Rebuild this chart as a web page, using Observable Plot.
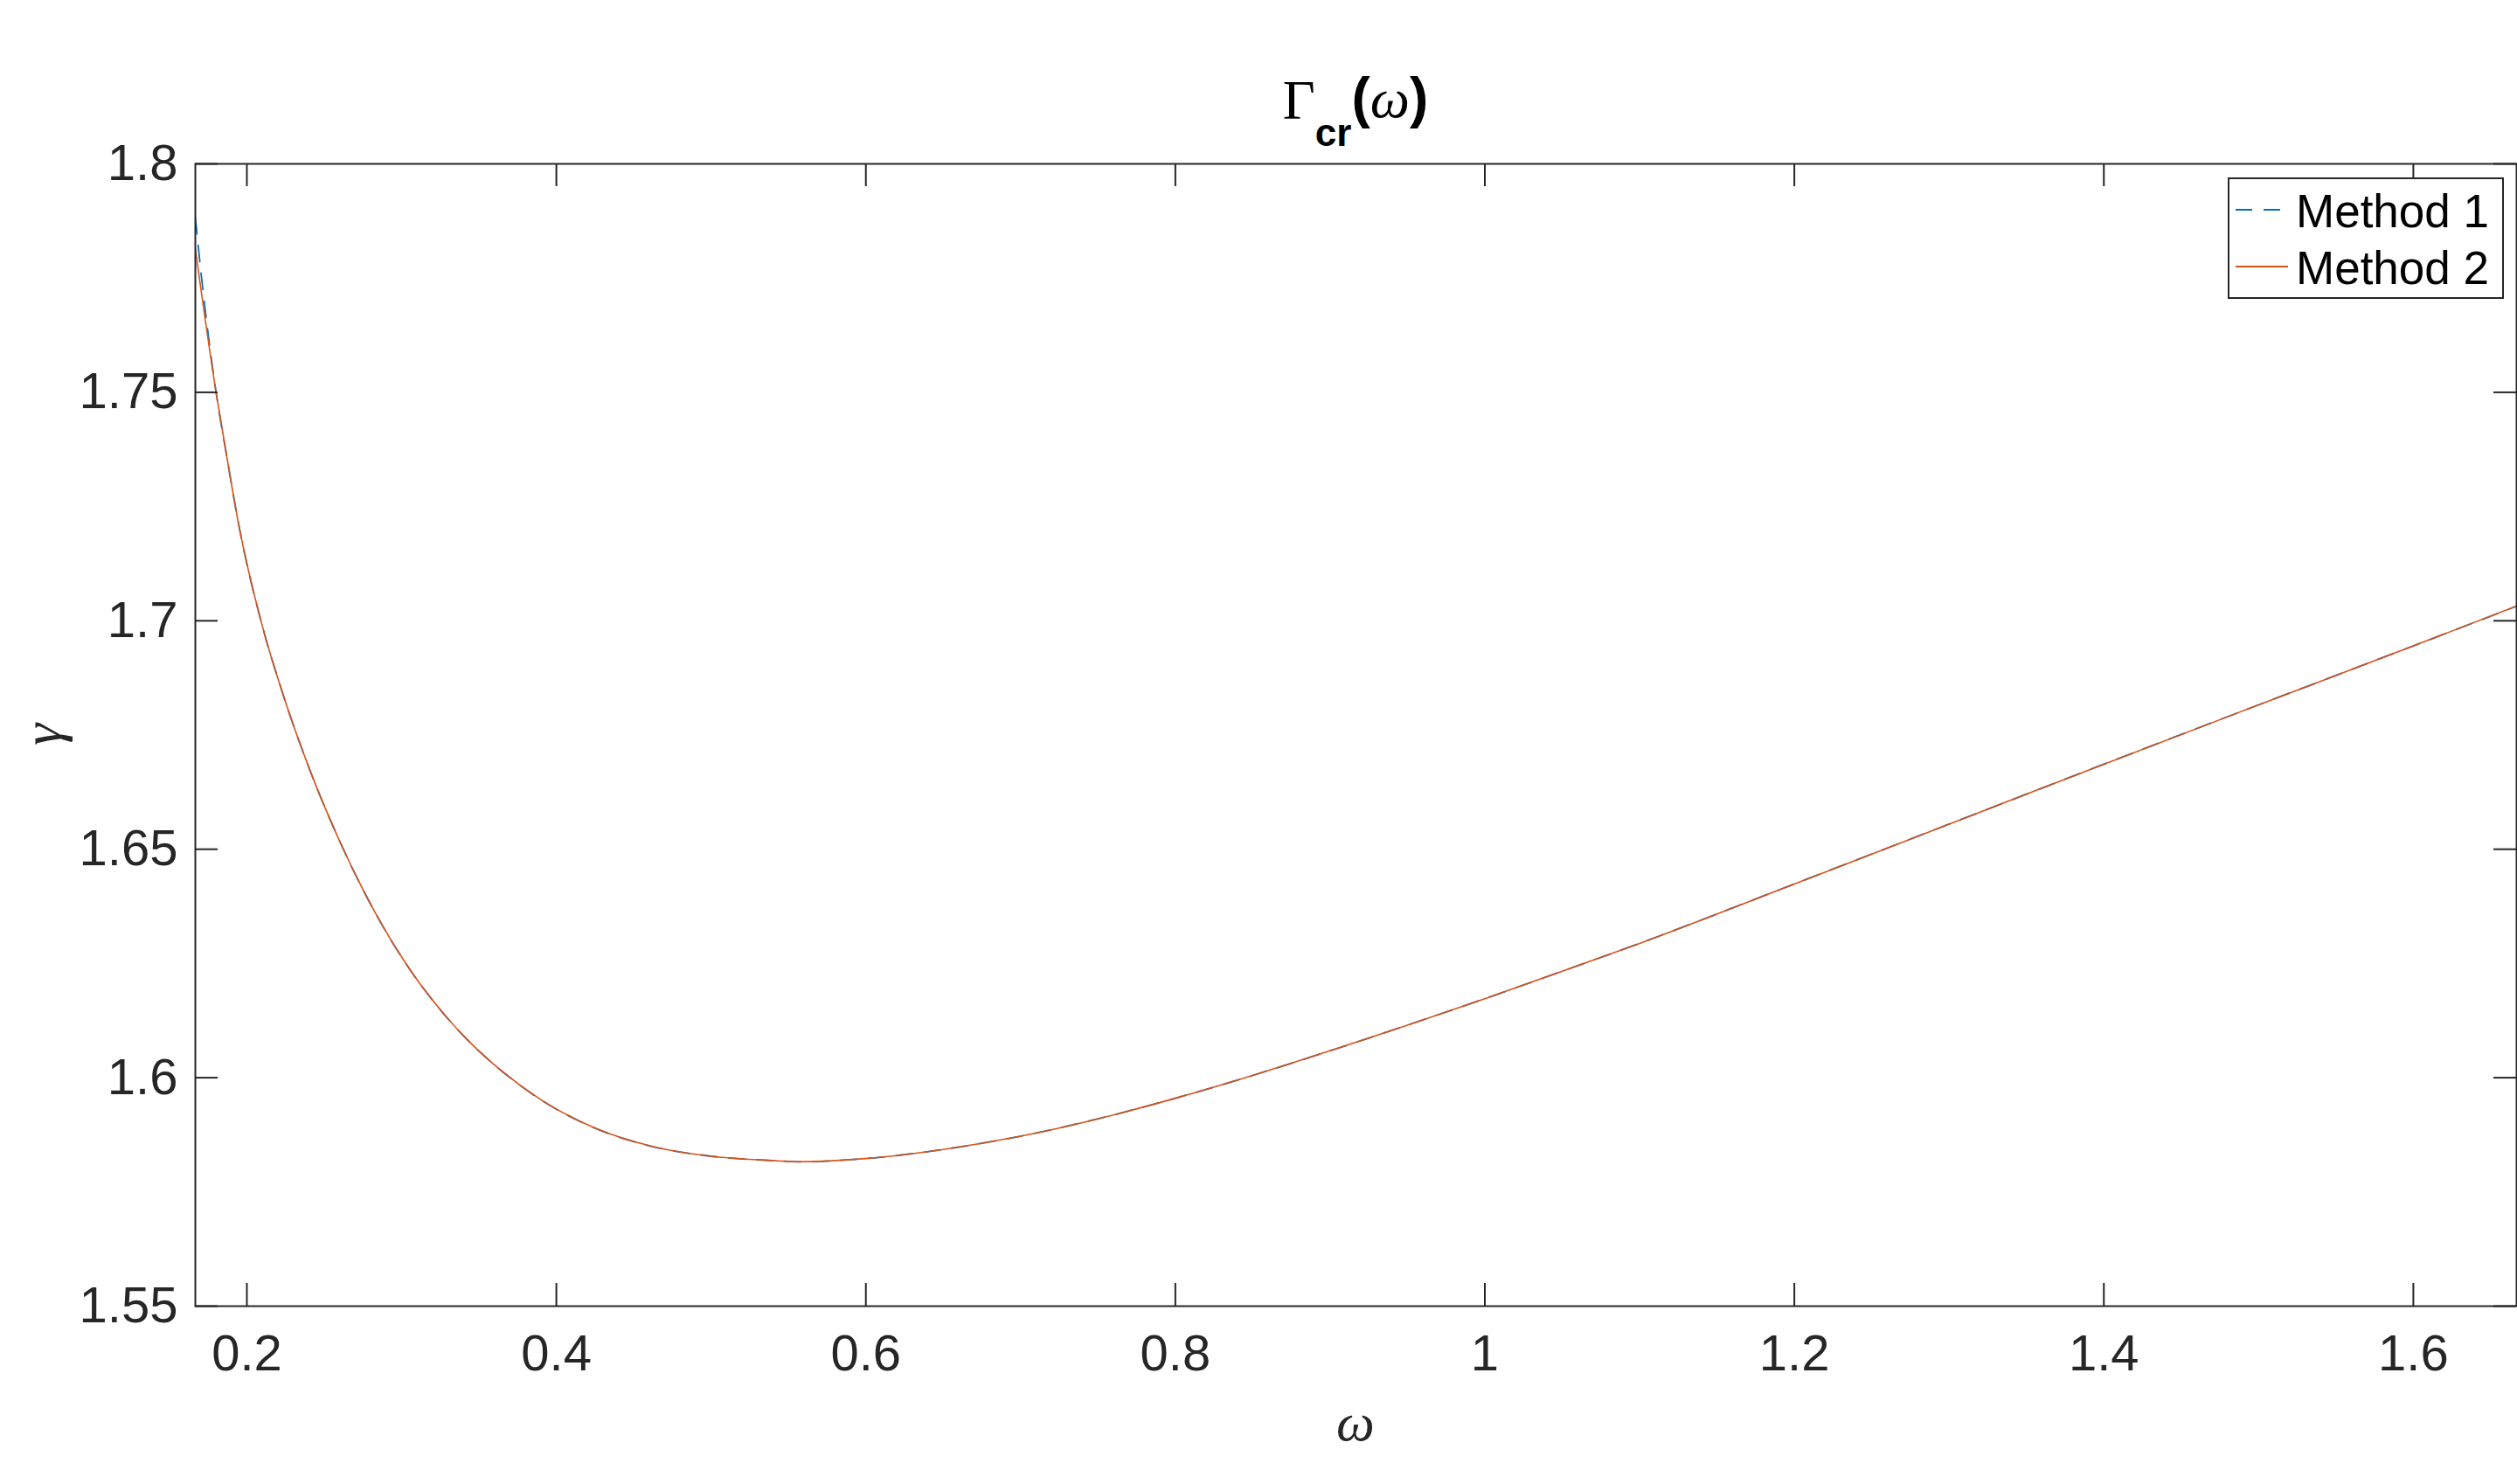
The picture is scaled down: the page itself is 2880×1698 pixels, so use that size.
<!DOCTYPE html>
<html>
<head>
<meta charset="utf-8">
<script src="https://cdn.jsdelivr.net/npm/d3@7"></script>
<script src="https://cdn.jsdelivr.net/npm/@observablehq/plot@0.6"></script>
<style>
  html, body { margin: 0; padding: 0; background: #fff; overflow: hidden; }
  #chart svg { display: block; }
</style>
</head>
<body>
<div id="chart"></div>
<script>
// ---- data ----
const omega = [0.1667, 0.1801, 0.1870, 0.1942, 0.2102, 0.2224, 0.2412, 0.2610, 0.2861, 0.3037,
  0.3264, 0.3440, 0.3642, 0.3894, 0.4247, 0.4625, 0.4978, 0.5432, 0.5558, 0.6000,
  0.6500, 0.7000, 0.7500, 0.8000, 0.8500, 0.9000, 0.9500, 1.0000, 1.0500, 1.1000,
  1.2000, 1.3000, 1.4000, 1.5000, 1.6000, 1.6667];
const gammaMethod2 = [1.7814, 1.7500, 1.7360, 1.7220, 1.6986, 1.6849, 1.6669, 1.6510, 1.6342, 1.6245,
  1.6143, 1.6078, 1.6016, 1.5953, 1.5890, 1.5849, 1.5829, 1.5818, 1.5816, 1.5823,
  1.5843, 1.5872, 1.5910, 1.5955, 1.6005, 1.6059, 1.6115, 1.6173, 1.6233, 1.6294,
  1.6424, 1.6555, 1.6686, 1.6816, 1.6945, 1.7032];
const omegaMethod1Start = [0.1667, 0.1712];
const gammaMethod1Start = [1.7883, 1.7736];
const gammaMethod1 = [1.7500, 1.7360, 1.7220, 1.6986, 1.6849, 1.6669, 1.6510, 1.6342, 1.6245,
  1.6143, 1.6078, 1.6016, 1.5953, 1.5890, 1.5849, 1.5829, 1.5818, 1.5816, 1.5823,
  1.5843, 1.5872, 1.5910, 1.5955, 1.6005, 1.6059, 1.6115, 1.6173, 1.6233, 1.6294,
  1.6424, 1.6555, 1.6686, 1.6816, 1.6945, 1.7032];
const seriesNames = ["Method 1", "Method 2"];
const xTicks = [0.2, 0.4, 0.6, 0.8, 1.0, 1.2, 1.4, 1.6];
const xTickLabels = ["0.2", "0.4", "0.6", "0.8", "1", "1.2", "1.4", "1.6"];
const yTicks = [1.55, 1.6, 1.65, 1.7, 1.75, 1.8];
const yTickLabels = ["1.55", "1.6", "1.65", "1.7", "1.75", "1.8"];
const xDomain = [0.1667, 1.6667];
const yDomain = [1.55, 1.8];

// ---- tables ----
const m2 = omega.map((w, i) => ({omega: w, gamma: gammaMethod2[i]}));
const m1 = omegaMethod1Start.map((w, i) => ({omega: w, gamma: gammaMethod1Start[i]}))
  .concat(omega.slice(1).map((w, i) => ({omega: w, gamma: gammaMethod1[i]})));

// ---- layout ----
const W = 2880, H = 1698;
const mL = 223, mR = 1, mT = 187, mB = 204;
const innerW = W - mL - mR, innerH = H - mT - mB;
const tickLen = 26;
const axisColor = "#262626";
const blue = "#0072BD", orange = "#D95319";
const sans = "'Liberation Sans', Arial, Helvetica, sans-serif";
const serif = "'Liberation Serif', 'Times New Roman', serif";

const chart = Plot.plot({
  width: W, height: H,
  marginLeft: mL, marginRight: mR, marginTop: mT, marginBottom: mB,
  x: {domain: xDomain},
  y: {domain: yDomain},
  style: {fontFamily: sans, fontSize: "58px", color: axisColor, background: "#fff"},
  marks: [
    Plot.line(m1, {x: "omega", y: "gamma", stroke: blue, strokeWidth: 1.8, strokeDasharray: "19,13", curve: "monotone-x", clip: true}),
    Plot.line(m2, {x: "omega", y: "gamma", stroke: orange, strokeWidth: 1.6, curve: "monotone-x", clip: true}),
    Plot.tickX(xTicks, {x: d => d, insetTop: innerH - tickLen, stroke: axisColor, strokeWidth: 2}),
    Plot.tickX(xTicks, {x: d => d, insetBottom: innerH - tickLen, stroke: axisColor, strokeWidth: 2}),
    Plot.tickY(yTicks, {y: d => d, insetRight: innerW - tickLen, stroke: axisColor, strokeWidth: 2}),
    Plot.tickY(yTicks, {y: d => d, insetLeft: innerW - tickLen, stroke: axisColor, strokeWidth: 2}),
    Plot.frame({stroke: axisColor, strokeWidth: 2}),
    Plot.axisX(xTicks, {tickSize: 0, tickPadding: 32, tickFormat: d => xTickLabels[xTicks.indexOf(d)], label: null, fontSize: 58, fill: axisColor}),
    Plot.axisY(yTicks, {tickSize: 0, tickPadding: 20, tickFormat: d => yTickLabels[yTicks.indexOf(d)], label: null, fontSize: 58, fill: axisColor})
  ]
});
document.getElementById("chart").appendChild(chart);

const svg = d3.select(chart);

// ---- title: Γ_cr(ω) ----
const title = svg.append("text")
  .attr("x", mL + innerW / 2).attr("y", 136)
  .attr("text-anchor", "middle")
  .attr("fill", "#000")
  .style("font-size", "64px");
title.append("tspan").text("Γ").style("font-family", serif).style("font-weight", "normal");
title.append("tspan").text("cr").attr("dy", 31).style("font-family", sans).style("font-weight", "bold").style("font-size", "44px");
title.append("tspan").text("(").attr("dy", -33).style("font-family", sans).style("font-weight", "bold");
title.append("tspan").text("ω").style("font-family", serif).style("font-style", "italic").style("font-weight", "normal");
title.append("tspan").text(")").style("font-family", sans).style("font-weight", "bold");

// ---- axis labels ----
svg.append("text")
  .attr("x", mL + innerW / 2).attr("y", 1648)
  .attr("text-anchor", "middle")
  .attr("fill", axisColor)
  .style("font-family", serif).style("font-style", "italic").style("font-size", "62px")
  .text("ω");
svg.append("text")
  .attr("transform", `translate(69,${mT + innerH / 2}) rotate(-90)`)
  .attr("text-anchor", "middle")
  .attr("fill", axisColor)
  .style("font-family", serif).style("font-style", "italic").style("font-size", "64px")
  .text("γ");

// ---- legend ----
const lg = svg.append("g").attr("text-anchor", "start");
lg.append("rect").attr("x", 2550).attr("y", 204).attr("width", 314).attr("height", 137)
  .attr("fill", "#fff").attr("stroke", axisColor).attr("stroke-width", 2);
const legendRows = [
  {name: seriesNames[0], color: blue, dash: "19,13", y: 240, base: 260},
  {name: seriesNames[1], color: orange, dash: null, y: 305, base: 325}
];
legendRows.forEach(r => {
  lg.append("line").attr("x1", 2558).attr("x2", 2618).attr("y1", r.y).attr("y2", r.y)
    .attr("stroke", r.color).attr("stroke-width", 1.8).attr("stroke-dasharray", r.dash);
  lg.append("text").attr("x", 2627).attr("y", r.base).attr("fill", "#000")
    .attr("text-anchor", "start")
    .style("font-family", sans).style("font-size", "53px").text(r.name);
});
</script>
</body>
</html>
